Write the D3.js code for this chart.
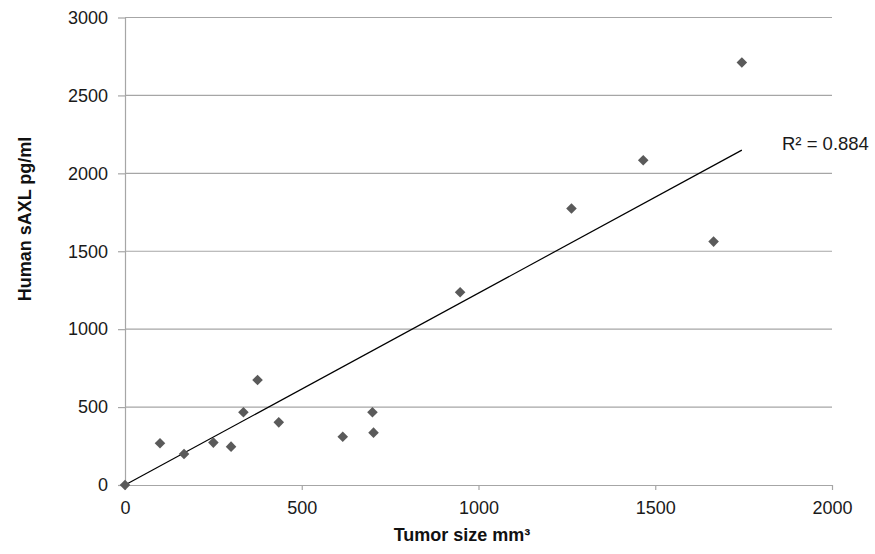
<!DOCTYPE html>
<html>
<head>
<meta charset="utf-8">
<script src="https://cdn.jsdelivr.net/npm/d3@7"></script>
<style>
  body { margin: 0; background: #fff; }
  text { font-family: "Liberation Sans", Arial, sans-serif; }
</style>
</head>
<body>
<svg width="875" height="554"></svg>
<script>
// values
var tumorSize = [0, 99, 167, 250, 300, 335, 375, 435, 616, 700, 703, 948, 1263, 1466, 1665, 1745];
var saxl = [0, 268, 199, 272, 246, 467, 674, 402, 310, 467, 336, 1237, 1774, 2084, 1562, 2711];
var xTicks = [0, 500, 1000, 1500, 2000];
var yTicks = [0, 500, 1000, 1500, 2000, 2500, 3000];
var r2Label = 'R\u00B2 = 0.884';

var svg = d3.select('svg');
var plotLeft = 125, plotRight = 832, plotTop = 17.5, plotBottom = 485;

var x = d3.scaleLinear().domain([0, 2000]).range([plotLeft, plotRight]);
var y = d3.scaleLinear().domain([0, 3000]).range([plotBottom, plotTop]);

// horizontal gridlines
svg.append('g').selectAll('line').data(yTicks.slice(1)).enter().append('line')
  .attr('x1', plotLeft).attr('x2', plotRight)
  .attr('y1', function(d) { return y(d); })
  .attr('y2', function(d) { return y(d); })
  .attr('stroke', '#a6a6a6').attr('stroke-width', 1.2);

// axes
var xAxis = svg.append('g')
  .attr('transform', 'translate(0,' + plotBottom + ')')
  .call(d3.axisBottom(x).tickValues(xTicks).tickFormat(d3.format('d'))
    .tickSize(5).tickSizeOuter(0).tickPadding(11));
var yAxis = svg.append('g')
  .attr('transform', 'translate(' + plotLeft + ',0)')
  .call(d3.axisLeft(y).tickValues(yTicks).tickFormat(d3.format('d'))
    .tickSize(7).tickSizeOuter(0).tickPadding(10));

[xAxis, yAxis].forEach(function(g) {
  g.select('.domain').attr('stroke', '#a6a6a6').attr('stroke-width', 1.2);
  g.selectAll('.tick line').attr('stroke', '#a6a6a6').attr('stroke-width', 1.2);
  g.selectAll('.tick text').attr('fill', '#1a1a1a')
    .style('font-family', '"Liberation Sans", Arial, sans-serif').style('font-size', '18px');
});

// linear trendline, intercept fixed at zero (it runs through the origin)
var sxy = 0, sxx = 0;
tumorSize.forEach(function(v, i) {
  sxy += v * saxl[i];
  sxx += v * v;
});
var slope = sxy / sxx;
var x0 = d3.min(tumorSize), x1 = d3.max(tumorSize);
svg.append('line')
  .attr('x1', x(x0)).attr('y1', y(slope * x0))
  .attr('x2', x(x1)).attr('y2', y(slope * x1))
  .attr('stroke', '#000').attr('stroke-width', 1.2);

// diamond markers
svg.append('g').selectAll('path').data(tumorSize).enter().append('path')
  .attr('d', d3.symbol().type(d3.symbolSquare).size(56))
  .attr('transform', function(d, i) {
    return 'translate(' + x(d) + ',' + y(saxl[i]) + ') rotate(45)';
  })
  .attr('fill', '#5a5a5a');

// R squared label
svg.append('text')
  .attr('x', 782).attr('y', 150)
  .attr('font-size', 18.5).attr('fill', '#1a1a1a')
  .text(r2Label);

// axis titles
svg.append('text')
  .attr('x', 462).attr('y', 541)
  .attr('text-anchor', 'middle')
  .attr('font-size', 18).attr('font-weight', 'bold').attr('fill', '#111')
  .text('Tumor size mm\u00B3');

svg.append('text')
  .attr('transform', 'translate(31,219) rotate(-90)')
  .attr('text-anchor', 'middle')
  .attr('font-size', 18).attr('font-weight', 'bold').attr('fill', '#111')
  .text('Human sAXL pg/ml');
</script>
</body>
</html>
